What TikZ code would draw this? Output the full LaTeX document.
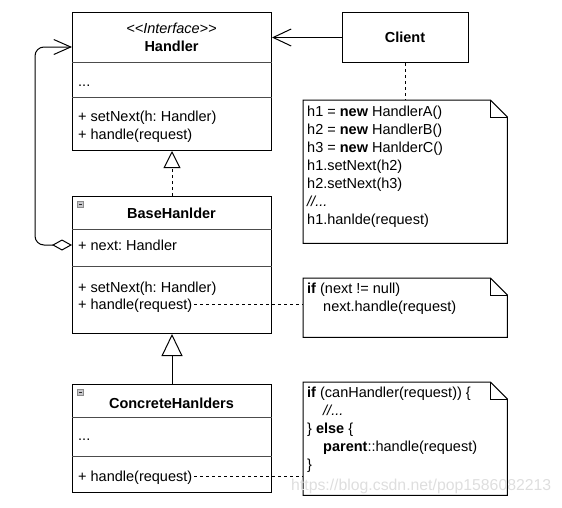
\documentclass[tikz,border=0pt]{standalone}
\usepackage{fontspec}
\setmainfont{Liberation Sans}
\usetikzlibrary{arrows.meta,calc}
\frenchspacing
\begin{document}
\begin{tikzpicture}[x=1pt,y=-1pt,
  font=\fontsize{14.5}{18}\selectfont,
  cls/.style={draw=black, line width=1pt, inner sep=0pt, anchor=north west, minimum width=199pt},
  sepline/.style={draw=black!70, line width=0.9pt},
  lbl/.style={anchor=base west, inner sep=0pt},
  ttl/.style={anchor=base, inner sep=0pt, font=\fontsize{14.5}{18}\selectfont\bfseries},
  notebox/.style={inner sep=0pt, anchor=north west, minimum width=204pt},
  noteline/.style={draw=black, line width=1pt, line join=miter},
  dep/.style={draw=black, line width=1pt, dash pattern=on 3pt off 3pt},
  conn/.style={draw=black, line width=1pt},
  icon/.style={draw=black!45, fill=blue!8!black!22, line width=0.6pt},
  iconbar/.style={draw=black!85, line width=1.1pt},
]
\useasboundingbox (0,0) rectangle (562,507);

% ---------- Handler ----------
\node[cls, minimum height=138pt] (handler) at (72,12) {};
\draw[sepline] ($(handler.north west)+(0,50)$) -- ($(handler.north east)+(0,50)$);
\draw[sepline] ($(handler.north west)+(0,85)$) -- ($(handler.north east)+(0,85)$);
\node[anchor=base, inner sep=0pt] (hster) at (171.5,33) {\itshape <\kern0pt<Interface>\kern0pt>};
\node[ttl] (htitle) at (171.5,51) {Handler};
\node[lbl] (hattr) at (78,86) {...};
\node[lbl] (hm1) at (78,121) {+ setNext(h: Handler)};
\node[lbl] (hm2) at (78,139) {+ handle(request)};

% ---------- BaseHanlder ----------
\node[cls, minimum height=137pt] (base) at (72,196) {};
\draw[sepline] ($(base.north west)+(0,33)$) -- ($(base.north east)+(0,33)$);
\draw[sepline] ($(base.north west)+(0,70)$) -- ($(base.north east)+(0,70)$);
\draw[icon] ($(base.north west)+(5.5,5.5)$) rectangle ($(base.north west)+(11.5,11.5)$);
\draw[iconbar] ($(base.north west)+(6.8,8.5)$) -- ($(base.north west)+(10.2,8.5)$);
\node[ttl] (btitle) at (171.5,218) {BaseHanlder};
\node[lbl] (battr) at (78,250) {+ next: Handler};
\node[lbl] (bm1) at (78,292) {+ setNext(h: Handler)};
\node[lbl] (bhandle) at (78,309) {+ handle(request)};

% ---------- ConcreteHanlders ----------
\node[cls, minimum height=108pt] (concrete) at (72,384) {};
\draw[sepline] ($(concrete.north west)+(0,33)$) -- ($(concrete.north east)+(0,33)$);
\draw[sepline] ($(concrete.north west)+(0,72)$) -- ($(concrete.north east)+(0,72)$);
\draw[icon] ($(concrete.north west)+(5.5,5.5)$) rectangle ($(concrete.north west)+(11.5,11.5)$);
\draw[iconbar] ($(concrete.north west)+(6.8,8.5)$) -- ($(concrete.north west)+(10.2,8.5)$);
\node[ttl] (ctitle) at (171.5,408) {ConcreteHanlders};
\node[lbl] (cattr) at (78,440) {...};
\node[lbl] (chandle) at (78,481) {+ handle(request)};

% ---------- Client ----------
\node[draw=black, line width=1pt, inner sep=0pt, anchor=north west, minimum width=126pt, minimum height=50pt] (client) at (342,12) {};
\node[ttl] (cltitle) at (405,42) {Client};

% ---------- Notes ----------
\node[notebox, minimum height=143pt] (note1) at (303,100) {};
\node[notebox, minimum height=59pt] (note2) at (303,278) {};
\node[notebox, minimum height=113pt] (note3) at (303,382) {};
\foreach \n in {note1,note2,note3}{
  \draw[noteline] (\n.north west) -- ($(\n.north east)+(-17,0)$) -- ($(\n.north east)+(0,17)$)
    -- (\n.south east) -- (\n.south west) -- cycle;
  \draw[noteline] ($(\n.north east)+(-17,0)$) -- ($(\n.north east)+(-17,17)$) -- ($(\n.north east)+(0,17)$);
}
\node[lbl] (n1a) at (307,116) {h1 = \textbf{new} HandlerA()};
\node[lbl] (n1b) at (307,134) {h2 = \textbf{new} HandlerB()};
\node[lbl] (n1c) at (307,152) {h3 = \textbf{new} HanlderC()};
\node[lbl] (n1d) at (307,170) {h1.setNext(h2)};
\node[lbl] (n1e) at (307,188) {h2.setNext(h3)};
\node[lbl] (n1f) at (307,206) {\itshape //...};
\node[lbl] (n1g) at (307,224) {h1.hanlde(request)};

\node[lbl] (n2a) at (307,293) {\textbf{if} (next != null)};
\node[lbl] (n2b) at (323,311) {next.handle(request)};

\node[lbl] (n3a) at (307,397) {\textbf{if} (canHandler(request)) \{};
\node[lbl] (n3b) at (323,415) {\itshape //...};
\node[lbl] (n3c) at (307,433) {\} \textbf{else} \{};
\node[lbl] (n3d) at (323,451) {\textbf{parent}::handle(request)};
\node[lbl] (n3e) at (307,469) {\}};

% ---------- Connectors ----------
\draw[conn, -{Straight Barb[length=18pt,width=17pt]}] (client.west) -- (client.west -| handler.east);
\draw[dep] (client.south) -- (client.south |- note1.north);
\draw[dep, -{Triangle[open,length=17pt,width=17pt]}] (base.north) -- (handler.south);
\draw[conn, -{Triangle[open,length=22pt,width=21pt]}] (concrete.north) -- (base.south);
\draw[conn, rounded corners=9pt, {Diamond[open,length=20pt,width=11pt]}-{Straight Barb[length=17pt,width=15pt]}]
  ($(base.north west)+(0,49)$) -- ($(base.north west)+(-37,49)$)
  -- ($(handler.north west)+(-37,35)$) -- ($(handler.north west)+(0,35)$);
\draw[dep] ($(bhandle.east)+(2,-1)$) -- ($(bhandle.east -| note2.west)+(0,-1)$);
\draw[dep] ($(chandle.east)+(2,-1)$) -- ($(chandle.east -| note3.west)+(0,-1)$);

% watermark
\node[anchor=base west, inner sep=0pt, text=black!13, font=\fontsize{15.8}{18}\selectfont] (wm) at (291,490) {https://blog.csdn.net/pop1586082213};
\end{tikzpicture}
\end{document}
